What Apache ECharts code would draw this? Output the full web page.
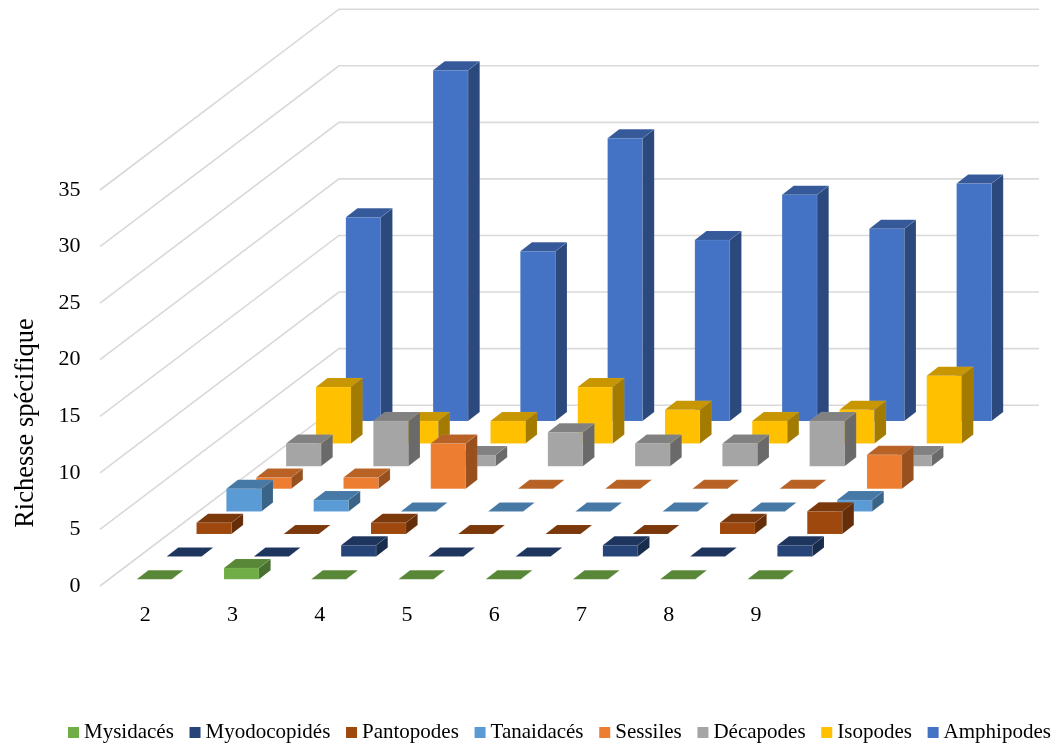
<!DOCTYPE html>
<html>
<head>
<meta charset="utf-8">
<style>html,body{margin:0;padding:0;background:#fff}#chart{width:1055px;height:744px}</style>
<script src="https://cdn.jsdelivr.net/npm/echarts@6/dist/echarts.min.js"></script>
</head>
<body>
<div id="chart"></div>
<script>
// Number of species per group for each station category
const categories = ['2', '3', '4', '5', '6', '7', '8', '9'];
const yTicks = [0, 5, 10, 15, 20, 25, 30, 35];
const mysidaces   = [0, 1, 0, 0, 0, 0, 0, 0];
const myodocopides = [0, 0, 1, 0, 0, 1, 0, 1];
const pantopodes  = [1, 0, 1, 0, 0, 0, 1, 2];
const tanaidaces  = [2, 1, 0, 0, 0, 0, 0, 1];
const sessiles    = [1, 1, 4, 0, 0, 0, 0, 3];
const decapodes   = [2, 4, 1, 3, 2, 2, 4, 1];
const isopodes    = [5, 2, 2, 5, 3, 2, 3, 6];
const amphipodes  = [18, 31, 15, 25, 16, 20, 17, 21];

const groupNames = ['Mysidacés', 'Myodocopidés', 'Pantopodes', 'Tanaidacés', 'Sessiles', 'Décapodes', 'Isopodes', 'Amphipodes'];
const groupValues = [mysidaces, myodocopides, pantopodes, tanaidaces, sessiles, decapodes, isopodes, amphipodes];
const groupColors = ['#70AD47', '#264478', '#9E480E', '#5B9BD5', '#ED7D31', '#A5A5A5', '#FFC000', '#4472C4'];

// Oblique projection: screen shift of one depth row, and of one bar's depth
const ROW_DX = 29.87, ROW_DY = 22.6;
const BAR_DX = 11.6, BAR_DY = 9, BAR_WIDTH = 35;

function shade(hex, f) {
  const n = parseInt(hex.slice(1), 16);
  const c = [(n >> 16) & 255, (n >> 8) & 255, n & 255].map(v => Math.round(v * f));
  return 'rgb(' + c.join(',') + ')';
}

function face(points, fill) {
  return {
    type: 'polygon',
    shape: { points: points },
    style: { fill: fill, stroke: 'rgba(255,255,255,0.15)', lineWidth: 0.5 }
  };
}

// One 3D box per data item: front, side and top faces
function barRenderer(row, color) {
  return function (params, api) {
    const base = api.coord([api.value(0), 0]);
    const top = api.coord([api.value(0), api.value(1)]);
    const midX = base[0] + ROW_DX * (row + 0.5);
    const shiftY = -ROW_DY * (row + 0.5);
    const x0 = midX - BAR_DX / 2 - BAR_WIDTH / 2, x1 = x0 + BAR_WIDTH;
    const yb = base[1] + shiftY + BAR_DY / 2;
    const yt = top[1] + shiftY + BAR_DY / 2;
    const children = [];
    if (yb - yt > 0.01) {
      children.push(face([[x0, yt], [x1, yt], [x1, yb], [x0, yb]], color));
      children.push(face([[x1, yt], [x1 + BAR_DX, yt - BAR_DY], [x1 + BAR_DX, yb - BAR_DY], [x1, yb]], shade(color, 0.64)));
    }
    children.push(face([[x0, yt], [x1, yt], [x1 + BAR_DX, yt - BAR_DY], [x0 + BAR_DX, yt - BAR_DY]], shade(color, 0.78)));
    return { type: 'group', children: children };
  };
}

// Gridlines running along the left wall and then the back wall
function wallRenderer(params, api) {
  const p = api.coord([0, api.value(1)]);
  const band = api.size([1, 0])[0];
  const left = p[0] - band / 2 - 1.5;
  const depthX = ROW_DX * categories.length, depthY = ROW_DY * categories.length;
  return {
    type: 'polyline',
    shape: { points: [[left, p[1]], [left + depthX, p[1] - depthY], [left + depthX + band * categories.length + 2, p[1] - depthY]] },
    style: { fill: null, stroke: '#D9D9D9', lineWidth: 1.6 }
  };
}

const serif = '"Liberation Serif", "Times New Roman", serif';

const series = [{
  name: 'walls',
  type: 'custom',
  silent: true,
  z: 1,
  renderItem: wallRenderer,
  encode: { x: 0, y: 1 },
  data: yTicks.map(v => [0, v])
}].concat(groupNames.map((name, i) => ({
  name: name,
  type: 'custom',
  silent: true,
  z: 20 - i,
  itemStyle: { color: groupColors[i] },
  renderItem: barRenderer(i, groupColors[i]),
  encode: { x: 0, y: 1 },
  data: groupValues[i].map((v, c) => [c, v])
})));

const chart = echarts.init(document.getElementById('chart'), null, { renderer: 'canvas' });
chart.setOption({
  animation: false,
  backgroundColor: '#fff',
  grid: { left: 101.5, width: 698, top: 190, height: 396 },
  xAxis: {
    type: 'category',
    data: categories,
    axisLine: { show: false },
    axisTick: { show: false },
    splitLine: { show: false },
    axisLabel: { color: '#000', fontFamily: serif, fontSize: 22, margin: 18 }
  },
  yAxis: {
    type: 'value',
    min: 0,
    max: 35,
    interval: 5,
    axisLine: { show: false },
    axisTick: { show: false },
    splitLine: { show: false },
    axisLabel: { color: '#000', fontFamily: serif, fontSize: 22, margin: 21 }
  },
  legend: {
    data: groupNames,
    left: 68,
    top: 722,
    width: 987,
    padding: 0,
    icon: 'rect',
    itemWidth: 11,
    itemHeight: 11,
    itemGap: 15.7,
    selectedMode: false,
    textStyle: { color: '#000', fontFamily: serif, fontSize: 21 }
  },
  graphic: [{
    type: 'text',
    x: 26.5,
    y: 423,
    rotation: Math.PI / 2,
    style: { text: 'Richesse spécifique', fill: '#000', font: '26.5px ' + serif, align: 'center', verticalAlign: 'middle' }
  }],
  series: series
});
</script>
</body>
</html>
